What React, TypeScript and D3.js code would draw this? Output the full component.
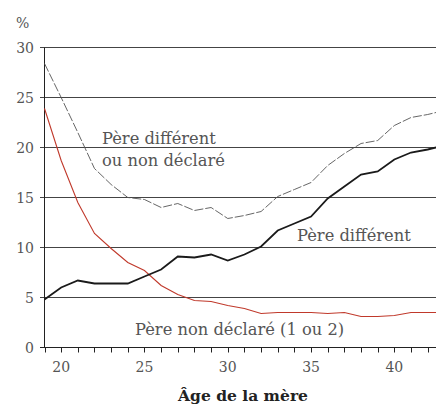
import React, { useRef, useEffect } from 'react';
import * as d3 from 'd3';

// age of mother (x axis)
const ages = [19, 20, 21, 22, 23, 24, 25, 26, 27, 28, 29, 30, 31, 32, 33, 34, 35, 36, 37, 38, 39, 40, 41, 42, 43];
// Père différent ou non déclaré (dashed)
const autreOuNonDeclare = [28.4, 25.0, 21.5, 17.9, 16.3, 15.0, 14.8, 14.0, 14.4, 13.7, 14.0, 12.9, 13.2, 13.6, 15.1, 15.8, 16.5, 18.2, 19.4, 20.4, 20.7, 22.2, 23.0, 23.3, 23.7];
// Père différent (black)
const pereDifferent = [4.8, 6.0, 6.7, 6.4, 6.4, 6.4, 7.1, 7.8, 9.1, 9.0, 9.3, 8.7, 9.3, 10.1, 11.7, 12.4, 13.1, 14.9, 16.1, 17.3, 17.6, 18.8, 19.5, 19.8, 20.2];
// Père non déclaré (red)
const pereNonDeclare = [23.9, 18.7, 14.5, 11.4, 9.9, 8.5, 7.7, 6.2, 5.3, 4.7, 4.6, 4.2, 3.9, 3.4, 3.5, 3.5, 3.5, 3.4, 3.5, 3.1, 3.1, 3.2, 3.5, 3.5, 3.5];

const yTicks = [0, 5, 10, 15, 20, 25, 30];
const xTicks = [20, 25, 30, 35, 40];

const App = () => {
  const svgRef = useRef<SVGSVGElement>(null);

  useEffect(() => {
    document.body.style.margin = '0';
    const w = 436;
    const h = 406;
    const font = '"DejaVu Serif", serif';
    const svg = d3.select(svgRef.current).attr('width', w).attr('height', h);
    svg.selectAll('*').remove();

    const x = d3.scaleLinear().domain([19, 42.5]).range([44.5, 436]);
    const y = d3.scaleLinear().domain([0, 30]).range([347.5, 47.5]);

    svg.append('defs').append('clipPath').attr('id', 'plot')
      .append('rect').attr('x', 40).attr('y', 0).attr('width', 396).attr('height', 360);

    // horizontal grid + y ticks
    svg.append('g')
      .selectAll('line')
      .data(yTicks.filter((d) => d > 0))
      .join('line')
      .attr('x1', 40).attr('x2', w)
      .attr('y1', (d) => y(d)).attr('y2', (d) => y(d))
      .attr('stroke', '#444').attr('stroke-width', 1);

    svg.append('g')
      .selectAll('text')
      .data(yTicks)
      .join('text')
      .attr('x', 34).attr('y', (d) => y(d) + 5)
      .attr('text-anchor', 'end')
      .attr('font-family', font).attr('font-size', 14).attr('fill', '#555')
      .text((d) => d);

    svg.append('text').attr('x', 16).attr('y', 28)
      .attr('font-family', font).attr('font-size', 14).attr('fill', '#555').text('%');

    // axes
    svg.append('line').attr('x1', x(19)).attr('x2', x(19)).attr('y1', y(30)).attr('y2', y(0))
      .attr('stroke', '#222');
    svg.append('line').attr('x1', 40).attr('x2', w).attr('y1', y(0)).attr('y2', y(0))
      .attr('stroke', '#222');
    svg.append('g')
      .selectAll('line')
      .data(ages.filter((d) => d <= 42))
      .join('line')
      .attr('x1', (d) => Math.round(x(d)) + 0.5).attr('x2', (d) => Math.round(x(d)) + 0.5)
      .attr('y1', y(0)).attr('y2', y(0) + 5)
      .attr('stroke', '#222');
    svg.append('g')
      .selectAll('text')
      .data(xTicks)
      .join('text')
      .attr('x', (d) => x(d)).attr('y', 372)
      .attr('text-anchor', 'middle')
      .attr('font-family', font).attr('font-size', 14).attr('fill', '#555')
      .text((d) => d);

    svg.append('text').attr('x', 243).attr('y', 401)
      .attr('text-anchor', 'middle')
      .attr('font-family', font).attr('font-size', 15.5).attr('font-weight', 'bold').attr('fill', '#222')
      .text('Âge de la mère');

    // lines
    const line = (vals: number[]) =>
      d3.line<number>().x((d, i) => x(ages[i])).y((d) => y(d))(vals);

    const g = svg.append('g').attr('clip-path', 'url(#plot)');
    g.append('path').attr('d', line(autreOuNonDeclare)).attr('fill', 'none')
      .attr('stroke', '#555').attr('stroke-width', 0.9).attr('stroke-dasharray', '9,2');
    g.append('path').attr('d', line(pereNonDeclare)).attr('fill', 'none')
      .attr('stroke', '#c0392b').attr('stroke-width', 1.1);
    g.append('path').attr('d', line(pereDifferent)).attr('fill', 'none')
      .attr('stroke', '#1a1a1a').attr('stroke-width', 1.8);

    // labels
    const label = (tx: number, ty: number, s: string) =>
      svg.append('text').attr('x', tx).attr('y', ty)
        .attr('font-family', font).attr('font-size', 16.3).attr('fill', '#555').text(s);
    label(102, 144, 'Père différent');
    label(102, 166, 'ou non déclaré');
    label(297, 241, 'Père différent');
    label(135, 335, 'Père non déclaré (1 ou 2)');
  }, []);

  return <svg ref={svgRef}></svg>;
};

export default App;
